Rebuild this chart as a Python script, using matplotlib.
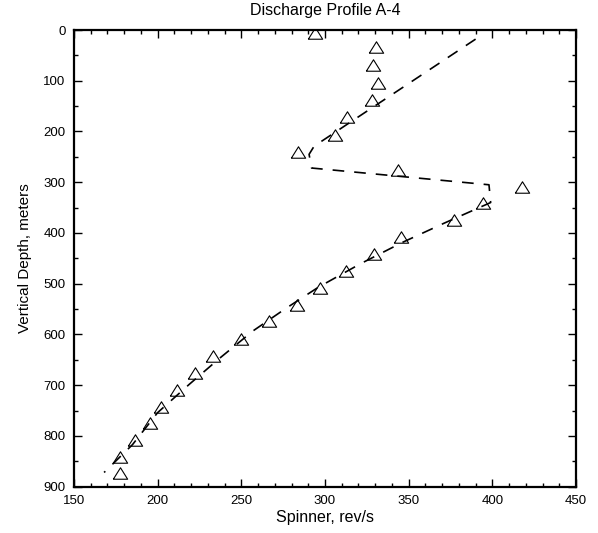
import matplotlib
matplotlib.use("Agg")
import matplotlib.pyplot as plt
from matplotlib.ticker import MultipleLocator

plt.rcParams['font.family'] = ['Liberation Sans', 'DejaVu Sans']

# measured spinner readings (triangles)
spinner = [294.3, 330.5, 328.6, 331.8, 328.2, 313.2, 305.7, 283.9, 343.9,
           417.7, 394.5, 376.8, 345.7, 329.1, 312.3, 297.0, 283.4, 266.8,
           249.8, 233.2, 222.3, 211.8, 201.8, 195.5, 186.4, 177.5, 177.5]
depth = [6, 33, 69, 105, 137, 171, 207, 241, 275,
         309, 341, 374, 408, 442, 474, 509, 541, 574,
         608, 642, 676, 709, 742, 774, 808, 841, 874]

# dashed model profile
model_spinner = [390, 293.5, 290.5, 292, 398, 399, 371, 346, 321, 296,
                 276, 257, 237, 219, 200, 185, 168]
model_depth = [18, 229, 245, 272, 305, 340, 381, 419, 461, 507,
               550, 593, 647, 698, 754, 817, 872]

tri = [(-1, -0.8), (1, -0.8), (0, 0.8), (-1, -0.8)]

fig = plt.figure(figsize=(5.98, 5.33), dpi=100)
ax = fig.add_axes([0.1237, 0.0869, 0.8395, 0.8568])

ax.plot(model_spinner, model_depth, color='black', lw=1.2,
        linestyle=(0, (7, 6)))
ax.plot(spinner, depth, linestyle='none', marker=tri, markersize=10.3,
        markerfacecolor='none', markeredgecolor='black', markeredgewidth=0.8)

ax.set_xlim(150, 450)
ax.set_ylim(900, 0)
ax.xaxis.set_major_locator(MultipleLocator(50))
ax.xaxis.set_minor_locator(MultipleLocator(10))
ax.yaxis.set_major_locator(MultipleLocator(100))
ax.yaxis.set_minor_locator(MultipleLocator(50))
ax.tick_params(which='both', direction='in', top=True, right=True,
               labelsize=9.5, width=1.0, pad=6)
ax.tick_params(which='major', length=6)
ax.tick_params(which='minor', length=3)
for s in ax.spines.values():
    s.set_linewidth(1.6)

ax.set_title("Discharge Profile A-4", fontsize=11.5, pad=11)
ax.set_xlabel("Spinner, rev/s", fontsize=11.5, labelpad=2)
ax.set_ylabel("Vertical Depth, meters", fontsize=11, labelpad=8)

fig.savefig("out.png", dpi=100)
